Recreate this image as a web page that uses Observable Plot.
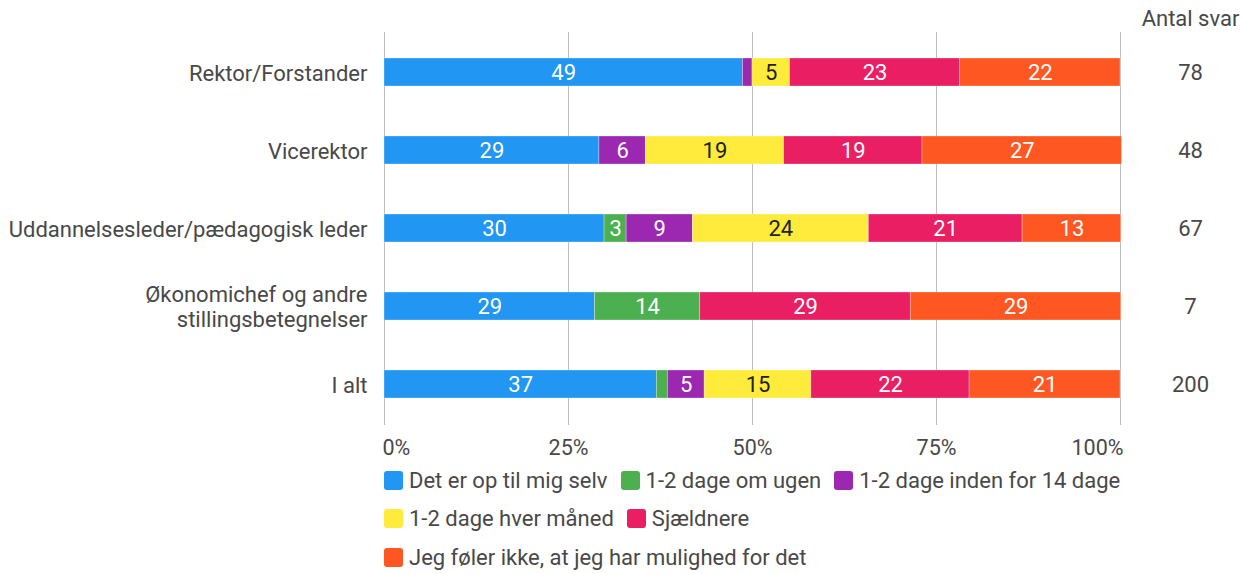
<!DOCTYPE html>
<html><head><meta charset="utf-8">
<script src="https://cdn.jsdelivr.net/npm/d3@7"></script>
<script src="https://cdn.jsdelivr.net/npm/@observablehq/plot@0.6"></script>
<style>
body{margin:0;background:#fff;font-family:Roboto,"Noto Sans",sans-serif;}
#legend{position:absolute;left:384px;top:461px;width:750px;display:flex;flex-wrap:wrap;column-gap:13px;font-size:22px;color:#484848;}
.item{display:flex;align-items:center;height:38.5px;}
.sw{width:19px;height:19px;border-radius:3px;margin-right:6px;}
</style></head>
<body>
<div id="chart"></div>
<div id="legend"></div>
<script>
const categories = ["Rektor/Forstander","Vicerektor","Uddannelsesleder/pædagogisk leder","Økonomichef og andre\nstillingsbetegnelser","I alt"];
const seriesNames = ["Det er op til mig selv","1-2 dage om ugen","1-2 dage inden for 14 dage","1-2 dage hver måned","Sjældnere","Jeg føler ikke, at jeg har mulighed for det"];
const colors = ["#2196F3","#4CAF50","#9C27B0","#FFEB3B","#E91E63","#FF5722"];
const blue   = [48.7, 29.2, 29.9, 28.6, 37.0];
const green  = [0,    0,    3.0, 14.3, 1.5];
const purple = [1.3,  6.3,  9.0,  0,    5.0];
const yellow = [5.1, 18.8, 23.9,  0,   14.5];
const pink   = [23.1,18.8, 20.9, 28.6, 21.5];
const orange = [21.8,27.1, 13.4, 28.6, 20.5];
const counts = [78, 48, 67, 7, 200];
const ticks = [0, 25, 50, 75, 100];
const countHeader = "Antal svar";

const seriesValues = [blue, green, purple, yellow, pink, orange];
const data = [];
seriesNames.forEach((s, si) => categories.forEach((c, ci) => {
  data.push({series: s, cat: c, value: seriesValues[si][ci]});
}));
const countData = categories.map((c, i) => ({cat: c, n: counts[i]}));
const textColor = "#484848";
const fs = 22;

const plot = Plot.plot({
  width: 1254, height: 460,
  marginLeft: 384, marginRight: 134, marginTop: 32, marginBottom: 35,
  style: {fontFamily: "Roboto, 'Noto Sans', sans-serif", fontSize: fs + "px", color: textColor, overflow: "visible"},
  x: {domain: [0, 100], axis: null},
  y: {domain: categories, axis: null, paddingInner: 0.64, paddingOuter: 0.33},
  color: {domain: seriesNames, range: colors},
  marks: [
    Plot.ruleX(ticks, {stroke: "#bdbdbd", strokeWidth: 1}),
    Plot.barX(data, Plot.stackX({x: "value", y: "cat", fill: "series", order: seriesNames, stroke: "white", strokeOpacity: 0.5, strokeWidth: 0.6})),
    Plot.text(data, Plot.stackX({x: "value", y: "cat", z: "series", order: seriesNames,
      text: d => d.value >= 2 ? String(Math.round(d.value)) : "",
      fill: d => d.series === seriesNames[3] ? "#212121" : "white", fontSize: fs})),
    Plot.text(categories, {y: d => d, text: d => d, frameAnchor: "left", dx: -17, textAnchor: "end", lineHeight: 1.14, fill: textColor, fontSize: fs}),
    Plot.text(countData, {y: "cat", text: d => String(d.n), frameAnchor: "right", dx: 70, textAnchor: "middle", fill: textColor, fontSize: fs}),
    Plot.text([countHeader], {text: d => d, frameAnchor: "top-right", lineAnchor: "middle", dx: 70, dy: -14, textAnchor: "middle", fill: textColor, fontSize: fs}),
    Plot.text(ticks.filter(t => t === 0), {x: d => d, text: d => d + "%", frameAnchor: "bottom", lineAnchor: "middle", dy: 23, textAnchor: "start", dx: -2, fill: textColor, fontSize: 21.5}),
    Plot.text(ticks.filter(t => t > 0 && t < 100), {x: d => d, text: d => d + "%", frameAnchor: "bottom", lineAnchor: "middle", dy: 23, textAnchor: "middle", fill: textColor, fontSize: 21.5}),
    Plot.text(ticks.filter(t => t === 100), {x: d => d, text: d => d + "%", frameAnchor: "bottom", lineAnchor: "middle", dy: 23, textAnchor: "end", dx: 3, fill: textColor, fontSize: 21.5})
  ]
});
document.getElementById("chart").appendChild(plot);

const legend = document.getElementById("legend");
seriesNames.forEach((s, i) => {
  const it = document.createElement("div"); it.className = "item";
  const sw = document.createElement("div"); sw.className = "sw"; sw.style.background = colors[i];
  const tx = document.createElement("span"); tx.textContent = s;
  it.appendChild(sw); it.appendChild(tx); legend.appendChild(it);
});
</script>
</body></html>
